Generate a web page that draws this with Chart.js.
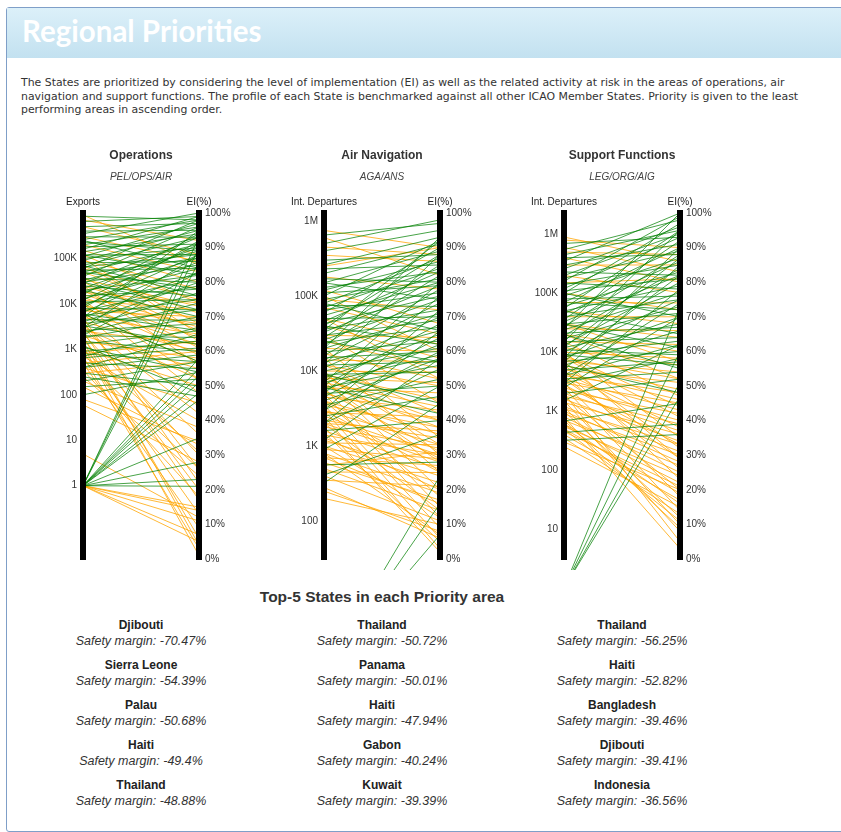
<!DOCTYPE html>
<html>
<head>
<meta charset="utf-8">
<title>Regional Priorities</title>
<script src="https://cdn.jsdelivr.net/npm/chart.js@4.4.1/dist/chart.umd.min.js"></script>
<style>
  html, body { margin: 0; padding: 0; background: #fff; overflow: hidden; }
  body { width: 841px; height: 832px; position: relative; font-family: Arial, "Liberation Sans", sans-serif; }
  #box { position: absolute; left: 6px; top: 7px; width: 900px; height: 823px; border: 1px solid #7f9fc8; border-radius: 3px; }
  #hdr { position: absolute; left: 7px; top: 8px; width: 900px; height: 50px;
         background: linear-gradient(#dcf0f9, #c3e1f0); }
  #hdr span { position: absolute; left: 15px; top: 8px; font-family: Lato, "Open Sans", sans-serif; font-weight: 700;
              font-size: 29.5px; line-height: 30px; color: #fff; }
  #intro { position: absolute; left: 21px; top: 76px; margin: 0; font-family: "DejaVu Sans", Verdana, sans-serif;
           font-size: 10.9px; line-height: 13.5px; color: #333; white-space: nowrap; }
  canvas { position: absolute; top: 140px; }
  #topTitle { position: absolute; left: 0; width: 764px; top: 587px; text-align: center; font-weight: bold;
              font-size: 15.5px; line-height: 20px; color: #333; }
  .col { position: absolute; top: 618px; width: 200px; text-align: center; }
  .entry { height: 40px; }
  .entry b { display: block; font-size: 12px; line-height: 15px; color: #222; }
  .entry i { display: block; font-size: 12.5px; line-height: 16px; color: #333; }
</style>
</head>
<body>
<div id="box"></div>
<div id="hdr"><span>Regional Priorities</span></div>
<p id="intro">The States are prioritized by considering the level of implementation (EI) as well as the related activity at risk in the areas of operations, air<br>navigation and support functions. The profile of each State is benchmarked against all other ICAO Member States. Priority is given to the least<br>performing areas in ascending order.</p>

<canvas id="opsChart" width="236" height="430" style="left:23px"></canvas>
<canvas id="airChart" width="236" height="430" style="left:264px"></canvas>
<canvas id="supChart" width="236" height="430" style="left:504px"></canvas>

<div id="topTitle">Top-5 States in each Priority area</div>
<div class="col" id="opsList" style="left:41px"></div>
<div class="col" id="airList" style="left:282px"></div>
<div class="col" id="supList" style="left:522px"></div>

<script>
// EI axis (right side of every panel)
const eiTicksStep = 10;

// Operations: exports (left, log) vs EI % (right)
const opsTicks = [1, 10, 100, 1000, 10000, 100000];
const opsTickLabels = ["1", "10", "100", "1K", "10K", "100K"];
const opsGreenExports = [1, 1, 1, 1, 1, 1, 1, 1, 1, 1, 1, 1, 1,
  150, 200, 300, 400, 500, 650, 800, 900, 1100, 1300, 1500, 1800, 2000, 2300, 2600, 3000, 3300, 3700,
  4000, 4500, 5000, 5500, 6000, 6500, 7000, 8000, 9000, 10000, 11000, 12000, 13000, 15000, 16000,
  18000, 20000, 22000, 25000, 28000, 30000, 33000, 36000, 40000, 45000, 50000, 55000, 60000, 65000,
  70000, 80000, 90000, 100000, 110000, 120000, 140000, 160000, 180000, 200000, 230000, 260000,
  300000, 350000, 400000, 500000, 650000, 850000,
  30000, 50000, 120000, 8000, 3000, 2000, 20000, 70000, 250000, 5000, 700, 400, 100, 250, 1200, 6000];
const opsGreenEI = [21, 23, 28, 35, 46, 48, 51, 53, 55, 58, 86, 90, 93,
  52, 57, 50, 59, 55, 61, 57, 63, 54, 66, 60, 70, 64, 74, 68, 77, 62, 72,
  80, 69, 83, 75, 66, 86, 79, 72, 88, 81, 75, 91, 84, 78, 94,
  87, 82, 90, 76, 93, 85, 89, 80, 96, 87, 91, 84, 98, 88,
  93, 86, 95, 90, 97, 88, 94, 99, 91, 96, 89, 98,
  93, 100, 95, 97, 99, 98,
  72, 78, 82, 92, 88, 83, 70, 76, 84, 95, 67, 65, 54, 47, 48, 57];
const opsOrangeExports = [1, 1, 1, 1, 1, 5, 60, 150, 250, 350, 500, 700, 900, 1200, 1500, 1800, 2200,
  2500, 3000, 3500, 4000, 700, 400, 200, 1000, 2000, 1500, 2500, 3000, 4000, 5000, 6000, 7000, 8000,
  9000, 10000, 12000, 14000, 16000, 18000, 20000, 25000, 30000, 35000, 40000, 50000, 60000, 70000,
  90000, 120000, 150000, 200000, 300000, 500000, 700000, 900000, 100000, 25000, 10000, 6000, 12000,
  800, 500, 300, 600, 1000, 80, 2000, 5000];
const opsOrangeEI = [15, 14, 11, 7, 5, 12, 28, 33, 24, 18, 9, 3, 13, 1, 6, 20, 30,
  17, 36, 42, 26, 40, 45, 38, 50, 55, 58, 62, 52, 60, 65, 57, 70, 62,
  68, 59, 72, 64, 67, 74, 61, 69, 66, 73, 63, 71, 75, 68,
  78, 74, 80, 83, 86, 88, 92, 85, 65, 56, 48, 44, 52,
  63, 60, 57, 26, 31, 34, 4, 22];

// Air Navigation: international departures vs EI %
const airTicks = [100, 1000, 10000, 100000, 1000000];
const airTickLabels = ["100", "1K", "10K", "100K", "1M"];
const airGreenDepartures = [1, 1, 1, 320, 410, 560, 1600, 900, 2000, 2500, 3000, 3500, 4000, 4500, 5000,
  5500, 6000, 6500, 7000, 8000, 9000, 10000, 11000, 12000, 13000, 14000, 15000, 16000, 18000, 20000,
  22000, 24000, 26000, 28000, 30000, 33000, 36000, 40000, 43000, 46000, 50000, 55000, 60000, 65000,
  70000, 75000, 80000, 90000, 100000, 110000, 120000, 130000, 150000, 170000, 200000, 230000, 260000,
  300000, 400000, 500000, 650000, 7000, 5000, 3000, 12000, 20000, 40000, 80000, 150000, 9000, 6000,
  25000, 35000, 2000, 1200];
const airGreenEI = [24, 16, 7, 45, 36, 28, 40, 50, 55, 47, 60, 52, 58, 64, 50,
  62, 56, 68, 59, 65, 54, 61, 70, 57, 66, 74, 60, 78, 63, 71,
  82, 67, 75, 85, 69, 79, 72, 88, 76, 83, 70, 80, 90, 77,
  84, 73, 87, 81, 92, 79, 86, 83, 89, 80, 91, 85, 93,
  88, 95, 98, 97, 80, 76, 72, 88, 93, 62, 66, 75, 45, 42,
  57, 92, 66, 58];
const airOrangeDepartures = [750000, 600000, 450000, 350000, 250000, 180000, 120000, 90000, 70000, 50000,
  40000, 30000, 25000, 20000, 17000, 14000, 12000, 10000, 9000, 8000, 7000, 6000, 5000, 4500, 4000,
  3500, 3000, 2800, 2500, 2200, 2000, 1800, 1600, 1400, 1200, 1100, 1000, 900, 800, 700, 600, 550,
  500, 450, 400, 350, 250, 200, 8000, 6000, 5000, 3000, 2500, 1500, 4000, 10000, 15000, 20000, 3500,
  7000, 12000, 2000, 1000, 2000, 9000, 6500, 30000, 1300, 700, 50000, 100000, 3000, 5500, 800, 1800,
  280, 4000, 8000];
const airOrangeEI = [90, 82, 88, 86, 90, 78, 68, 72, 65, 62,
  58, 64, 55, 60, 52, 57, 50, 54, 46, 51, 44, 48, 40, 43, 36,
  38, 33, 41, 30, 35, 28, 32, 26, 30, 24, 33, 22, 29, 19, 27, 17, 31,
  14, 25, 11, 21, 8, 10, 20, 15, 12, 6, 3, 5, 18, 25, 30, 35, 9,
  28, 42, 14, 12, 37, 33, 38, 45, 20, 16, 52, 60, 25, 31, 7, 2,
  6, 29, 40];

// Support Functions: international departures vs EI %
const supTicks = [10, 100, 1000, 10000, 100000, 1000000];
const supTickLabels = ["10", "100", "1K", "10K", "100K", "1M"];
const supGreenDepartures = [1, 1, 1, 1, 320, 435, 680, 2000, 3000, 3500, 4000, 5000, 6000, 7000, 8000,
  9000, 10000, 11000, 12000, 13000, 15000, 17000, 19000, 21000, 24000, 27000, 30000, 33000, 36000,
  40000, 45000, 50000, 55000, 60000, 70000, 80000, 90000, 100000, 110000, 120000, 140000, 160000,
  180000, 200000, 230000, 260000, 300000, 350000, 400000, 450000, 550000, 700000, 5000, 8000, 15000,
  3000, 20000, 50000, 100000, 2500, 7000, 25000, 6000, 9000, 1500, 12000, 4000, 30000, 70000, 150000];
const supGreenEI = [73, 60, 51, 47, 36, 39, 45, 52, 58, 54, 62, 57, 66, 60, 70,
  63, 75, 59, 68, 80, 64, 73, 84, 67, 77, 88, 71, 82, 92,
  75, 86, 79, 95, 83, 90, 76, 87, 97, 81, 93, 85, 99,
  89, 94, 82, 96, 91, 100, 88, 95, 98, 93, 85, 90, 95,
  78, 55, 65, 70, 70, 82, 100, 48, 56, 62, 87, 74, 61, 72, 78];
const supOrangeDepartures = [900000, 800000, 600000, 500000, 400000, 300000, 200000, 150000, 100000, 70000,
  50000, 40000, 30000, 25000, 20000, 15000, 12000, 10000, 8000, 7000, 6000, 5000, 4500, 4000, 3500,
  3000, 2500, 2200, 2000, 1800, 1600, 1400, 1200, 1100, 1000, 900, 800, 700, 600, 550, 500, 450,
  400, 350, 300, 250, 1500, 2000, 1000, 3000, 5000, 7000, 10000, 6000, 8000, 4000, 2500, 1200, 800,
  15000, 20000, 30000, 600, 3500, 9000, 1800, 500, 700, 2800, 4500];
const supOrangeEI = [86, 90, 83, 88, 80, 85, 77, 81, 72, 74,
  68, 70, 64, 66, 60, 62, 56, 58, 52, 54, 49, 51, 46, 48, 43,
  45, 40, 42, 37, 39, 34, 36, 31, 33, 28, 30, 25, 27, 22, 24, 19, 21,
  17, 13, 20, 15, 10, 5, 12, 18, 23, 29, 35, 32, 41, 26, 14, 8, 3,
  47, 52, 57, 16, 29, 44, 20, 11, 9, 33, 38];

// Top-5 lists
const opsTopStates = ["Djibouti", "Sierra Leone", "Palau", "Haiti", "Thailand"];
const opsTopMargins = [-70.47, -54.39, -50.68, -49.4, -48.88];
const airTopStates = ["Thailand", "Panama", "Haiti", "Gabon", "Kuwait"];
const airTopMargins = [-50.72, -50.01, -47.94, -40.24, -39.39];
const supTopStates = ["Thailand", "Haiti", "Bangladesh", "Djibouti", "Indonesia"];
const supTopMargins = [-56.25, -52.82, -39.46, -39.41, -36.56];

const GREEN = "rgba(0, 128, 0, 0.72)";
const ORANGE = "rgba(255, 165, 0, 0.78)";

// draws one line per State between the two axes, using the chart scales
const parallelLines = {
  id: "parallelLines",
  beforeDatasetsDraw(chart, args, opts) {
    const { ctx, scales } = chart;
    const x0 = scales.x.getPixelForValue(0);
    const x1 = scales.x.getPixelForValue(1);
    ctx.save();
    ctx.lineWidth = 1;
    opts.groups.forEach(g => {
      ctx.strokeStyle = g.color;
      g.activity.forEach((v, i) => {
        ctx.beginPath();
        ctx.moveTo(x0, scales.act.getPixelForValue(v));
        ctx.lineTo(x1, scales.ei.getPixelForValue(g.ei[i]));
        ctx.stroke();
      });
    });
    ctx.restore();
  },
  afterDraw(chart, args, opts) {
    const { ctx, chartArea, scales } = chart;
    const mid = (chartArea.left + chartArea.right) / 2;
    ctx.save();
    ctx.textAlign = "center";
    ctx.textBaseline = "middle";
    ctx.fillStyle = "#333";
    ctx.font = "bold 12px Arial";
    ctx.fillText(opts.title, mid, 15.5);
    ctx.fillStyle = "#444";
    ctx.font = "italic 10px Arial";
    ctx.fillText(opts.subtitle, mid, 37);
    ctx.fillStyle = "#222";
    ctx.font = "10px Arial";
    ctx.fillText(opts.actLabel, scales.x.getPixelForValue(0), chartArea.top - 11);
    ctx.fillText("EI(%)", scales.x.getPixelForValue(1), chartArea.top - 11);
    ctx.restore();
  }
};

function makePanel(canvasId, p) {
  const tickFont = { family: "Arial", size: 10 };
  return new Chart(document.getElementById(canvasId), {
    type: "line",
    data: { datasets: [] },
    options: {
      responsive: false,
      animation: false,
      events: [],
      layout: { padding: { top: 73, bottom: 11, left: 0, right: 0 } },
      plugins: {
        legend: { display: false },
        tooltip: { enabled: false },
        parallelLines: {
          title: p.title, subtitle: p.subtitle, actLabel: p.actLabel,
          groups: [
            { color: ORANGE, activity: p.orange[0], ei: p.orange[1] },
            { color: GREEN, activity: p.green[0], ei: p.green[1] }
          ]
        }
      },
      scales: {
        x: { type: "linear", min: 0, max: 1, display: false },
        act: {
          type: "logarithmic",
          position: "left",
          min: p.min,
          max: p.max,
          afterBuildTicks: s => { s.ticks = p.ticks.map(v => ({ value: v })); },
          afterFit: s => { s.width = 60; s.paddingTop = 0; s.paddingBottom = 0; },
          grid: { display: false, drawTicks: false },
          border: { display: true, color: "#000", width: 6, z: 1 },
          ticks: {
            padding: 6, color: "#333", font: tickFont, autoSkip: false,
            callback: v => p.tickLabels[p.ticks.indexOf(v)]
          }
        },
        ei: {
          type: "linear",
          position: "right",
          min: 0,
          max: 100,
          afterFit: s => { s.width = 60; s.paddingTop = 0; s.paddingBottom = 0; },
          grid: { display: false, drawTicks: false },
          border: { display: true, color: "#000", width: 6, z: 1 },
          ticks: {
            stepSize: eiTicksStep, padding: 6, color: "#333", font: tickFont, autoSkip: false,
            callback: v => v + "%"
          }
        }
      }
    },
    plugins: [parallelLines]
  });
}

makePanel("opsChart", {
  title: "Operations", subtitle: "PEL/OPS/AIR", actLabel: "Exports",
  min: 0.0244, max: 1000000, ticks: opsTicks, tickLabels: opsTickLabels,
  green: [opsGreenExports, opsGreenEI], orange: [opsOrangeExports, opsOrangeEI]
});
makePanel("airChart", {
  title: "Air Navigation", subtitle: "AGA/ANS", actLabel: "Int. Departures",
  min: 31.1, max: 1280000, ticks: airTicks, tickLabels: airTickLabels,
  green: [airGreenDepartures, airGreenEI], orange: [airOrangeDepartures, airOrangeEI]
});
makePanel("supChart", {
  title: "Support Functions", subtitle: "LEG/ORG/AIG", actLabel: "Int. Departures",
  min: 3.1, max: 2300000, ticks: supTicks, tickLabels: supTickLabels,
  green: [supGreenDepartures, supGreenEI], orange: [supOrangeDepartures, supOrangeEI]
});

function fillList(id, states, margins) {
  const el = document.getElementById(id);
  states.forEach((name, i) => {
    const div = document.createElement("div");
    div.className = "entry";
    div.innerHTML = `<b>${name}</b><i>Safety margin: ${margins[i]}%</i>`;
    el.appendChild(div);
  });
}
fillList("opsList", opsTopStates, opsTopMargins);
fillList("airList", airTopStates, airTopMargins);
fillList("supList", supTopStates, supTopMargins);
</script>
</body>
</html>
